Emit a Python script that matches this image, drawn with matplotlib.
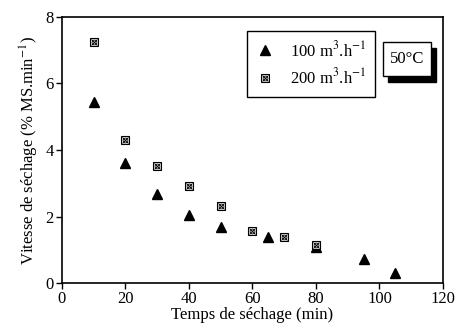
import matplotlib
matplotlib.use('Agg')
import matplotlib.pyplot as plt
from matplotlib.legend_handler import HandlerTuple
from matplotlib.patches import Rectangle

plt.rcParams['font.family'] = 'Liberation Serif'
plt.rcParams['mathtext.fontset'] = 'stix'

t100 = [10, 20, 30, 40, 50, 65, 80, 95, 105]
v100 = [5.45, 3.6, 2.68, 2.05, 1.7, 1.38, 1.08, 0.72, 0.3]
t200 = [10, 20, 30, 40, 50, 60, 70, 80]
v200 = [7.25, 4.3, 3.52, 2.93, 2.33, 1.57, 1.37, 1.13]

fig = plt.figure(figsize=(4.59, 3.33), dpi=100)
ax = fig.add_axes([0.135, 0.150, 0.83, 0.799])

h1, = ax.plot(t100, v100, '^', color='black', ms=7, ls='none')
hs, = ax.plot(t200, v200, 's', mfc='white', mec='black', mew=0.8, ms=6, ls='none')
hx, = ax.plot(t200, v200, 'x', color='black', mew=0.7, ms=5, ls='none')
ho, = ax.plot(t200, v200, 'o', mfc='none', mec='black', mew=0.6, ms=3.5, ls='none')

ax.set_xlim(0, 120)
ax.set_ylim(0, 8)
ax.set_xticks([0, 20, 40, 60, 80, 100, 120])
ax.set_yticks([0, 2, 4, 6, 8])
ax.tick_params(direction='out', length=4, width=1, labelsize=12, pad=2)
for s in ax.spines.values():
    s.set_linewidth(1.2)

ax.set_xlabel('Temps de séchage (min)', fontsize=12, labelpad=0)
ax.set_ylabel('Vitesse de séchage (% MS.min$^{-1}$)', fontsize=12, labelpad=3)

leg = ax.legend([h1, (hs, hx, ho)], ['100 m$^3$.h$^{-1}$', '200 m$^3$.h$^{-1}$'],
                handler_map={tuple: HandlerTuple(ndivide=1, pad=0)},
                loc='upper left', bbox_to_anchor=(0.486, 0.947), borderaxespad=0,
                fontsize=12, fancybox=False, edgecolor='black', framealpha=1,
                handlelength=1.0, handletextpad=1.0, borderpad=0.55, labelspacing=0.45)
leg.get_frame().set_linewidth(1.0)

# 50°C label with drop shadow
ax.add_patch(Rectangle((0.857, 0.756), 0.126, 0.128, transform=ax.transAxes,
                       fc='black', ec='black', zorder=5, clip_on=False))
ax.add_patch(Rectangle((0.843, 0.778), 0.126, 0.128, transform=ax.transAxes,
                       fc='white', ec='black', lw=1.0, zorder=6, clip_on=False))
ax.text(0.906, 0.842, '50°C', transform=ax.transAxes, fontsize=12,
        ha='center', va='center', zorder=7)

fig.savefig('out.png', dpi=100)
